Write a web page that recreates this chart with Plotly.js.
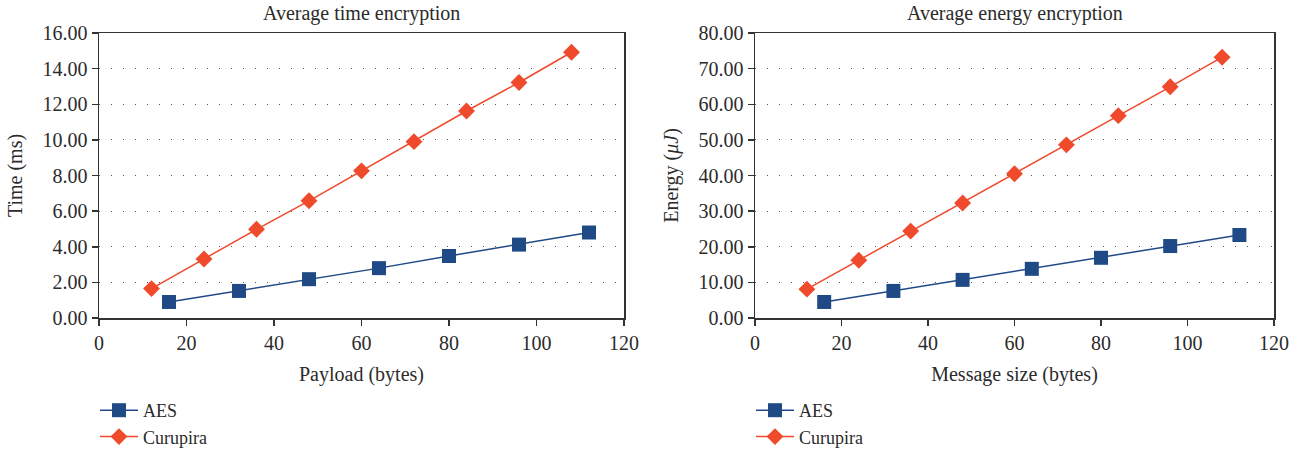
<!DOCTYPE html>
<html>
<head>
<meta charset="utf-8">
<script src="https://cdn.plot.ly/plotly-3.0.1.min.js"></script>
<style>html,body{margin:0;padding:0;background:#fff;}#chart{width:1305px;height:455px;}</style>
</head>
<body>
<div id="chart"></div>
<script>
// Data
const aesX = [16, 32, 48, 64, 80, 96, 112];
const curX = [12, 24, 36, 48, 60, 72, 84, 96, 108];
const aesTime = [0.90, 1.52, 2.18, 2.80, 3.48, 4.12, 4.80];
const curTime = [1.65, 3.31, 4.98, 6.58, 8.26, 9.90, 11.62, 13.22, 14.92];
const aesEnergy = [4.5, 7.6, 10.7, 13.8, 16.9, 20.2, 23.3];
const curEnergy = [8.1, 16.2, 24.4, 32.3, 40.5, 48.6, 56.8, 64.9, 73.2];
const seriesNames = ["AES", "Curupira"];
const titles = ["Average time encryption", "Average energy encryption"];
const xTitles = ["Payload (bytes)", "Message size (bytes)"];
const yTitles = ["Time (ms)", "Energy (<i>μJ</i>)"];
const xTicks = [0, 20, 40, 60, 80, 100, 120];
const yTicksTime = [0, 2, 4, 6, 8, 10, 12, 14, 16];
const yTicksEnergy = [0, 10, 20, 30, 40, 50, 60, 70, 80];

const blue = "#1f4a86";
const red = "#f04a2c";
const fontFam = "Liberation Serif, serif";
const txt = "#2b2b2b";
const FS = 20;

function aesTrace(x, y, xa, ya, leg) {
  return {x: x, y: y, xaxis: xa, yaxis: ya, name: seriesNames[0], mode: "lines+markers",
    line: {color: blue, width: 1.5}, marker: {symbol: "square", size: 14, color: blue},
    legend: leg, showlegend: true};
}
function curTrace(x, y, xa, ya, leg) {
  return {x: x, y: y, xaxis: xa, yaxis: ya, name: seriesNames[1], mode: "lines+markers",
    line: {color: red, width: 1.5}, marker: {symbol: "diamond", size: 13, color: red},
    legend: leg, showlegend: true};
}

const data = [
  aesTrace(aesX, aesTime, "x", "y", "legend"),
  curTrace(curX, curTime, "x", "y", "legend"),
  aesTrace(aesX, aesEnergy, "x2", "y2", "legend2"),
  curTrace(curX, curEnergy, "x2", "y2", "legend2")
];

const W = 1305, H = 455;
const xd1 = [99 / W, 624 / W], xd2 = [755 / W, 1274 / W];
const yd = [1 - 318 / H, 1 - 33 / H];

function xaxis(domain, title, anchor) {
  return {domain: domain, anchor: anchor, range: [0, 120], tickvals: xTicks,
    showline: true, mirror: true, linecolor: "#333", linewidth: 1.5,
    ticks: "outside", ticklen: 6, tickcolor: "#333", tickwidth: 1.5,
    showgrid: false, zeroline: false, automargin: false,
    tickfont: {family: fontFam, size: FS, color: txt},
    title: {text: title, font: {family: fontFam, size: FS, color: txt}, standoff: 14}};
}
function yaxis(domain, title, anchor, range, vals) {
  return {domain: domain, anchor: anchor, range: range, tickvals: vals,
    tickformat: ".2f",
    showline: true, mirror: true, linecolor: "#333", linewidth: 1.5,
    ticks: "outside", ticklen: 6, tickcolor: "#333", tickwidth: 1.5,
    showgrid: true, gridcolor: "#555", gridwidth: 1, griddash: "1px,11px",
    zeroline: false, automargin: false,
    tickfont: {family: fontFam, size: FS, color: txt},
    title: {text: title, font: {family: fontFam, size: FS, color: txt}, standoff: 14}};
}

const legendStyle = {font: {family: fontFam, size: 18, color: txt}, bgcolor: "rgba(0,0,0,0)",
  tracegroupgap: 0, itemwidth: 38, xanchor: "left", yanchor: "bottom"};

const layout = {
  width: W, height: H,
  margin: {l: 0, r: 0, t: 0, b: 0},
  paper_bgcolor: "#fff", plot_bgcolor: "#fff",
  font: {family: fontFam, color: txt},
  xaxis: xaxis(xd1, xTitles[0], "y"),
  yaxis: yaxis(yd, yTitles[0], "x", [0, 16], yTicksTime),
  xaxis2: xaxis(xd2, xTitles[1], "y2"),
  yaxis2: yaxis(yd, yTitles[1], "x2", [0, 80], yTicksEnergy),
  legend: Object.assign({x: 95 / W, y: 0}, legendStyle),
  legend2: Object.assign({x: 751 / W, y: 0}, legendStyle),
  annotations: [
    {text: titles[0], x: (xd1[0] + xd1[1]) / 2, y: 1 - 13 / H, xref: "paper", yref: "paper",
      xanchor: "center", yanchor: "middle", showarrow: false,
      font: {family: fontFam, size: FS, color: txt}},
    {text: titles[1], x: (xd2[0] + xd2[1]) / 2, y: 1 - 13 / H, xref: "paper", yref: "paper",
      xanchor: "center", yanchor: "middle", showarrow: false,
      font: {family: fontFam, size: FS, color: txt}}
  ]
};

Plotly.newPlot("chart", data, layout, {displayModeBar: false, staticPlot: true});
</script>
</body>
</html>
